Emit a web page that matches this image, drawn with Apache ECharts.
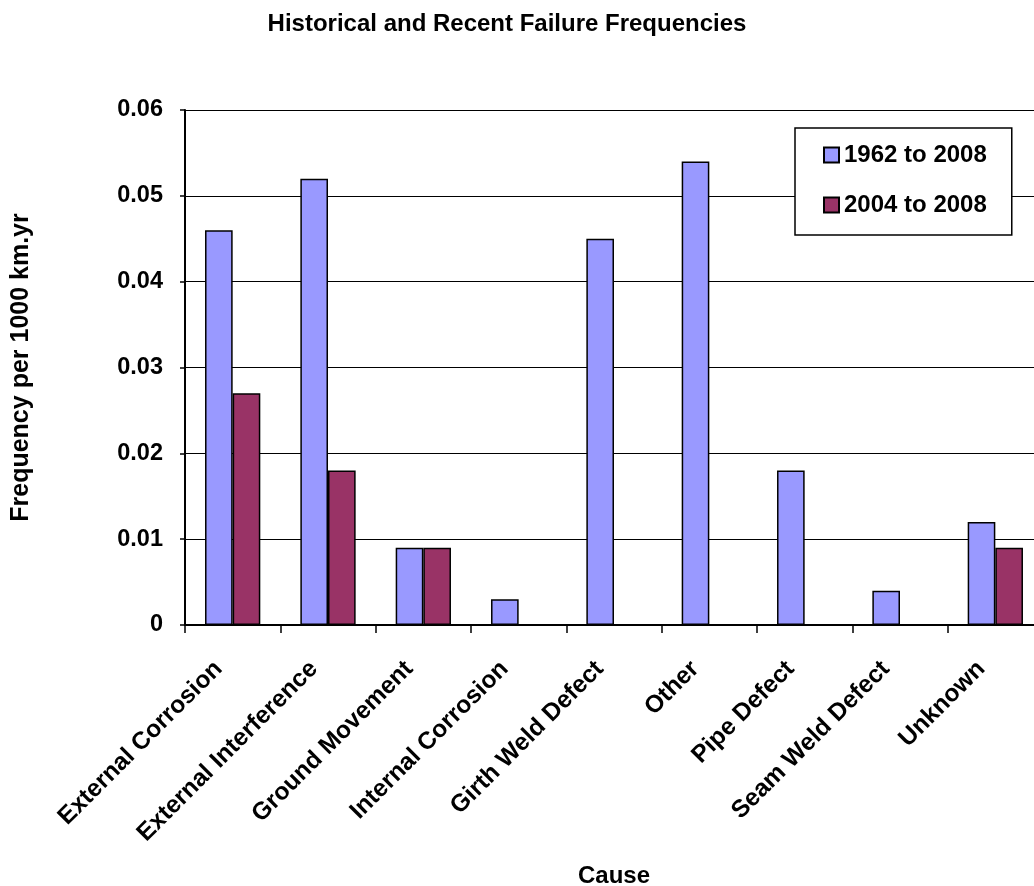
<!DOCTYPE html>
<html>
<head>
<meta charset="utf-8">
<title>Historical and Recent Failure Frequencies</title>
<script src="https://cdn.jsdelivr.net/npm/echarts@6/dist/echarts.min.js"></script>
<style>
  html, body { margin: 0; padding: 0; background: #fff; }
  #chart { width: 1034px; height: 886px; }
</style>
</head>
<body>
<div id="chart"></div>
<script>
// Failure causes along the category axis
const causes = [
  'External Corrosion', 'External Interference', 'Ground Movement',
  'Internal Corrosion', 'Girth Weld Defect', 'Other',
  'Pipe Defect', 'Seam Weld Defect', 'Unknown'
];

// Failure frequency per 1000 km.yr for each period
const freq1962to2008 = [0.046, 0.052, 0.009, 0.003, 0.045, 0.054, 0.018, 0.004, 0.012];
const freq2004to2008 = [0.027, 0.018, 0.009, 0, 0, 0, 0, 0, 0.009];

const seriesNames = ['1962 to 2008', '2004 to 2008'];

const FONT = "'Liberation Sans', Arial, Helvetica, sans-serif";

const chart = echarts.init(document.getElementById('chart'), null, { renderer: 'canvas' });

chart.setOption({
  backgroundColor: '#ffffff',
  animation: false,
  title: {
    text: 'Historical and Recent Failure Frequencies',
    left: 502,
    textAlign: 'center',
    top: 7,
    textStyle: { fontFamily: FONT, fontSize: 24, fontWeight: 'bold', color: '#000' }
  },
  legend: {
    orient: 'vertical',
    left: 795,
    top: 128,
    data: seriesNames,
    icon: 'rect',
    itemWidth: 15,
    itemHeight: 15,
    itemGap: 26,
    padding: [15, 25, 18, 28],
    borderColor: '#000',
    borderWidth: 1.5,
    backgroundColor: '#fff',
    textStyle: { fontFamily: FONT, fontSize: 24, fontWeight: 'bold', color: '#000', lineHeight: 24 }
  },
  grid: {
    left: 185,
    right: -9,
    top: 110,
    bottom: 261,
    containLabel: false,
    outerBoundsMode: 'none'
  },
  xAxis: {
    type: 'category',
    data: causes,
    name: 'Cause',
    nameLocation: 'middle',
    nameGap: 239,
    nameTextStyle: { fontFamily: FONT, fontSize: 24, fontWeight: 'bold', color: '#000' },
    axisLine: { lineStyle: { color: '#000', width: 2 } },
    axisTick: { show: true, alignWithLabel: false, length: 8, lineStyle: { color: '#000', width: 1.5 } },
    axisLabel: {
      rotate: 45,
      interval: 0,
      margin: 26,
      padding: [0, 20, 0, 0],
      fontFamily: FONT, fontSize: 24.5, fontWeight: 'bold', color: '#000'
    }
  },
  yAxis: {
    type: 'value',
    min: 0,
    max: 0.06,
    interval: 0.01,
    name: 'Frequency per 1000 km.yr',
    nameLocation: 'middle',
    nameGap: 151,
    nameRotate: 90,
    nameTextStyle: { fontFamily: FONT, fontSize: 25, fontWeight: 'bold', color: '#000' },
    axisLine: { show: true, lineStyle: { color: '#000', width: 2 } },
    axisTick: { show: true, length: 5, lineStyle: { color: '#000', width: 1.5 } },
    axisLabel: {
      margin: 22,
      fontFamily: FONT, fontSize: 23.5, fontWeight: 'bold', color: '#000',
      formatter: v => (v === 0 ? '0' : v.toFixed(2))
    },
    splitLine: { show: true, lineStyle: { color: '#000', width: 1 } }
  },
  series: [
    {
      name: seriesNames[0],
      type: 'bar',
      data: freq1962to2008,
      barGap: '0%',
      barCategoryGap: '42%',
      itemStyle: { color: '#9999FF', borderColor: '#000', borderWidth: 1.5 }
    },
    {
      name: seriesNames[1],
      type: 'bar',
      data: freq2004to2008,
      barGap: '0%',
      barCategoryGap: '42%',
      itemStyle: { color: '#993366', borderColor: '#000', borderWidth: 1.5 }
    }
  ]
});
</script>
</body>
</html>
